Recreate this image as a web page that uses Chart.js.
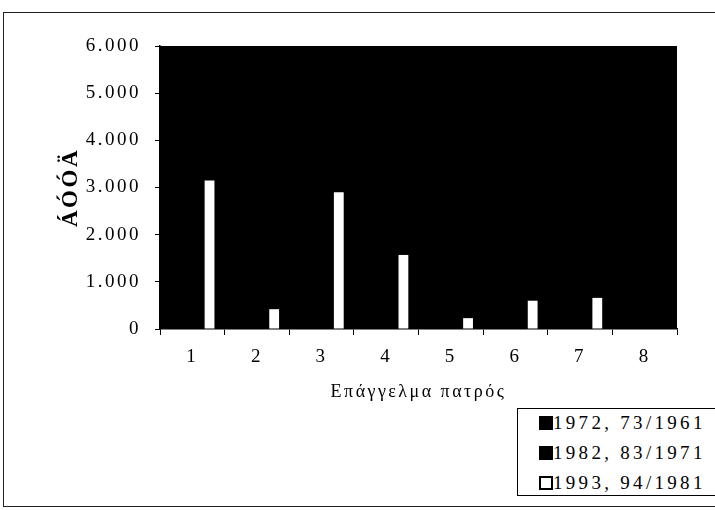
<html>
  <head>
    <script src="https://cdn.jsdelivr.net/npm/chart.js@4/dist/chart.umd.min.js"></script>
    <style>
      body,
      html {
        margin: 0;
        padding: 0;
        background: #fff;
        font-family: "Liberation Serif", "DejaVu Serif", serif;
      }
      .frame {
        position: absolute;
        left: 3px;
        top: 12px;
        width: 720px;
        height: 495px;
        border: 1px solid #222;
        box-sizing: border-box;
      }
      .wrapper {
        position: absolute;
        left: 0;
        top: 0;
        width: 715px;
        height: 510px;
      }
      #legend {
        position: absolute;
        left: 517px;
        top: 408px;
        width: 200px;
        height: 88px;
        border: 1px solid #000;
        box-sizing: border-box;
        background: #fff;
        padding: 0 0 0 21px;
        font-size: 19px;
        letter-spacing: 3.3px;
        color: #000;
      }
      #legend div {
        height: 30px;
        line-height: 28px;
        white-space: nowrap;
      }
      #legend span {
        display: inline-block;
        width: 14px;
        height: 14px;
        margin-right: 0;
        letter-spacing: 0;
        border: 2px solid #000;
        box-sizing: border-box;
        vertical-align: -1px;
      }
    </style>
  </head>
  <body>
    <div class="frame"></div>
    <div class="wrapper">
      <canvas id="fatherChart" width="715" height="510"></canvas>
    </div>
    <div id="legend"></div>

    <script>
      // occupation of father, categories 1..8
      const categories = ["1", "2", "3", "4", "5", "6", "7", "8"];
      const seriesNames = ["1972, 73/1961", "1982, 83/1971", "1993, 94/1981"];
      const series1972 = [3700, 5150, 3500, 1800, 500, 900, 400, 1500];
      const series1982 = [2950, 5400, 2350, 1900, 350, 1000, 700, 800];
      const series1993 = [3150, 420, 2900, 1570, 230, 600, 660, 0];
      const yTicks = [0, 1000, 2000, 3000, 4000, 5000, 6000];
      const seriesColors = ["#000000", "#000000", "#ffffff"];

      const fmt = function (v) {
        return String(v).replace(/\B(?=(\d{3})+(?!\d))/g, ".");
      };

      // black plot background + letter spacing like the scan
      const plotBg = {
        id: "plotBg",
        beforeDraw(chart) {
          const { ctx, chartArea } = chart;
          ctx.letterSpacing = "2.5px";
          ctx.save();
          ctx.fillStyle = "#000";
          ctx.fillRect(chartArea.left, chartArea.top, chartArea.width, chartArea.height);
          ctx.restore();
        },
      };

      const ctx = document.getElementById("fatherChart").getContext("2d");
      const allSeries = [series1972, series1982, series1993];

      var fatherChart = new Chart(ctx, {
        type: "bar",
        data: {
          labels: categories,
          datasets: allSeries.map(function (d, i) {
            return {
              label: seriesNames[i],
              data: d,
              backgroundColor: seriesColors[i],
              borderColor: "#000",
              borderWidth: 0,
              categoryPercentage: 0.8,
              barPercentage: 0.57,
            };
          }),
        },
        options: {
          responsive: false,
          animation: false,
          layout: {
            padding: { top: 46, right: 38, bottom: 101, left: 0 },
          },
          plugins: {
            legend: { display: false },
            tooltip: { enabled: false },
          },
          scales: {
            x: {
              afterFit: function (s) {
                s.height = 80;
              },
              border: { color: "#000", width: 1.5 },
              grid: {
                drawOnChartArea: false,
                tickLength: 6,
                color: "#000",
              },
              ticks: {
                color: "#000",
                padding: 11,
                font: { family: "Liberation Serif", size: 19 },
              },
              title: {
                display: true,
                text: "Επάγγελμα πατρός",
                color: "#000",
                font: { family: "Liberation Serif", size: 18 },
                padding: { top: 0, bottom: 6 },
              },
            },
            y: {
              min: 0,
              max: 6000,
              afterFit: function (s) {
                s.width = 160;
              },
              afterBuildTicks: function (s) {
                s.ticks = yTicks.map(function (v) {
                  return { value: v };
                });
              },
              border: { color: "#000", width: 1.5 },
              grid: {
                drawOnChartArea: false,
                tickLength: 5,
                color: "#000",
              },
              ticks: {
                color: "#000",
                padding: 14,
                font: { family: "Liberation Serif", size: 19 },
                callback: function (v) {
                  return fmt(v);
                },
              },
              title: {
                display: true,
                text: "ÁÓÓÄ",
                color: "#000",
                font: { family: "Liberation Serif", size: 23, weight: "bold" },
                padding: { top: 57, bottom: 0 },
              },
            },
          },
        },
        plugins: [plotBg],
      });

      // legend box in the lower right
      const legendEl = document.getElementById("legend");
      seriesNames.forEach(function (name, i) {
        const row = document.createElement("div");
        const sw = document.createElement("span");
        sw.style.background = seriesColors[i];
        row.appendChild(sw);
        row.appendChild(document.createTextNode(name));
        legendEl.appendChild(row);
      });
    </script>
  </body>
</html>
